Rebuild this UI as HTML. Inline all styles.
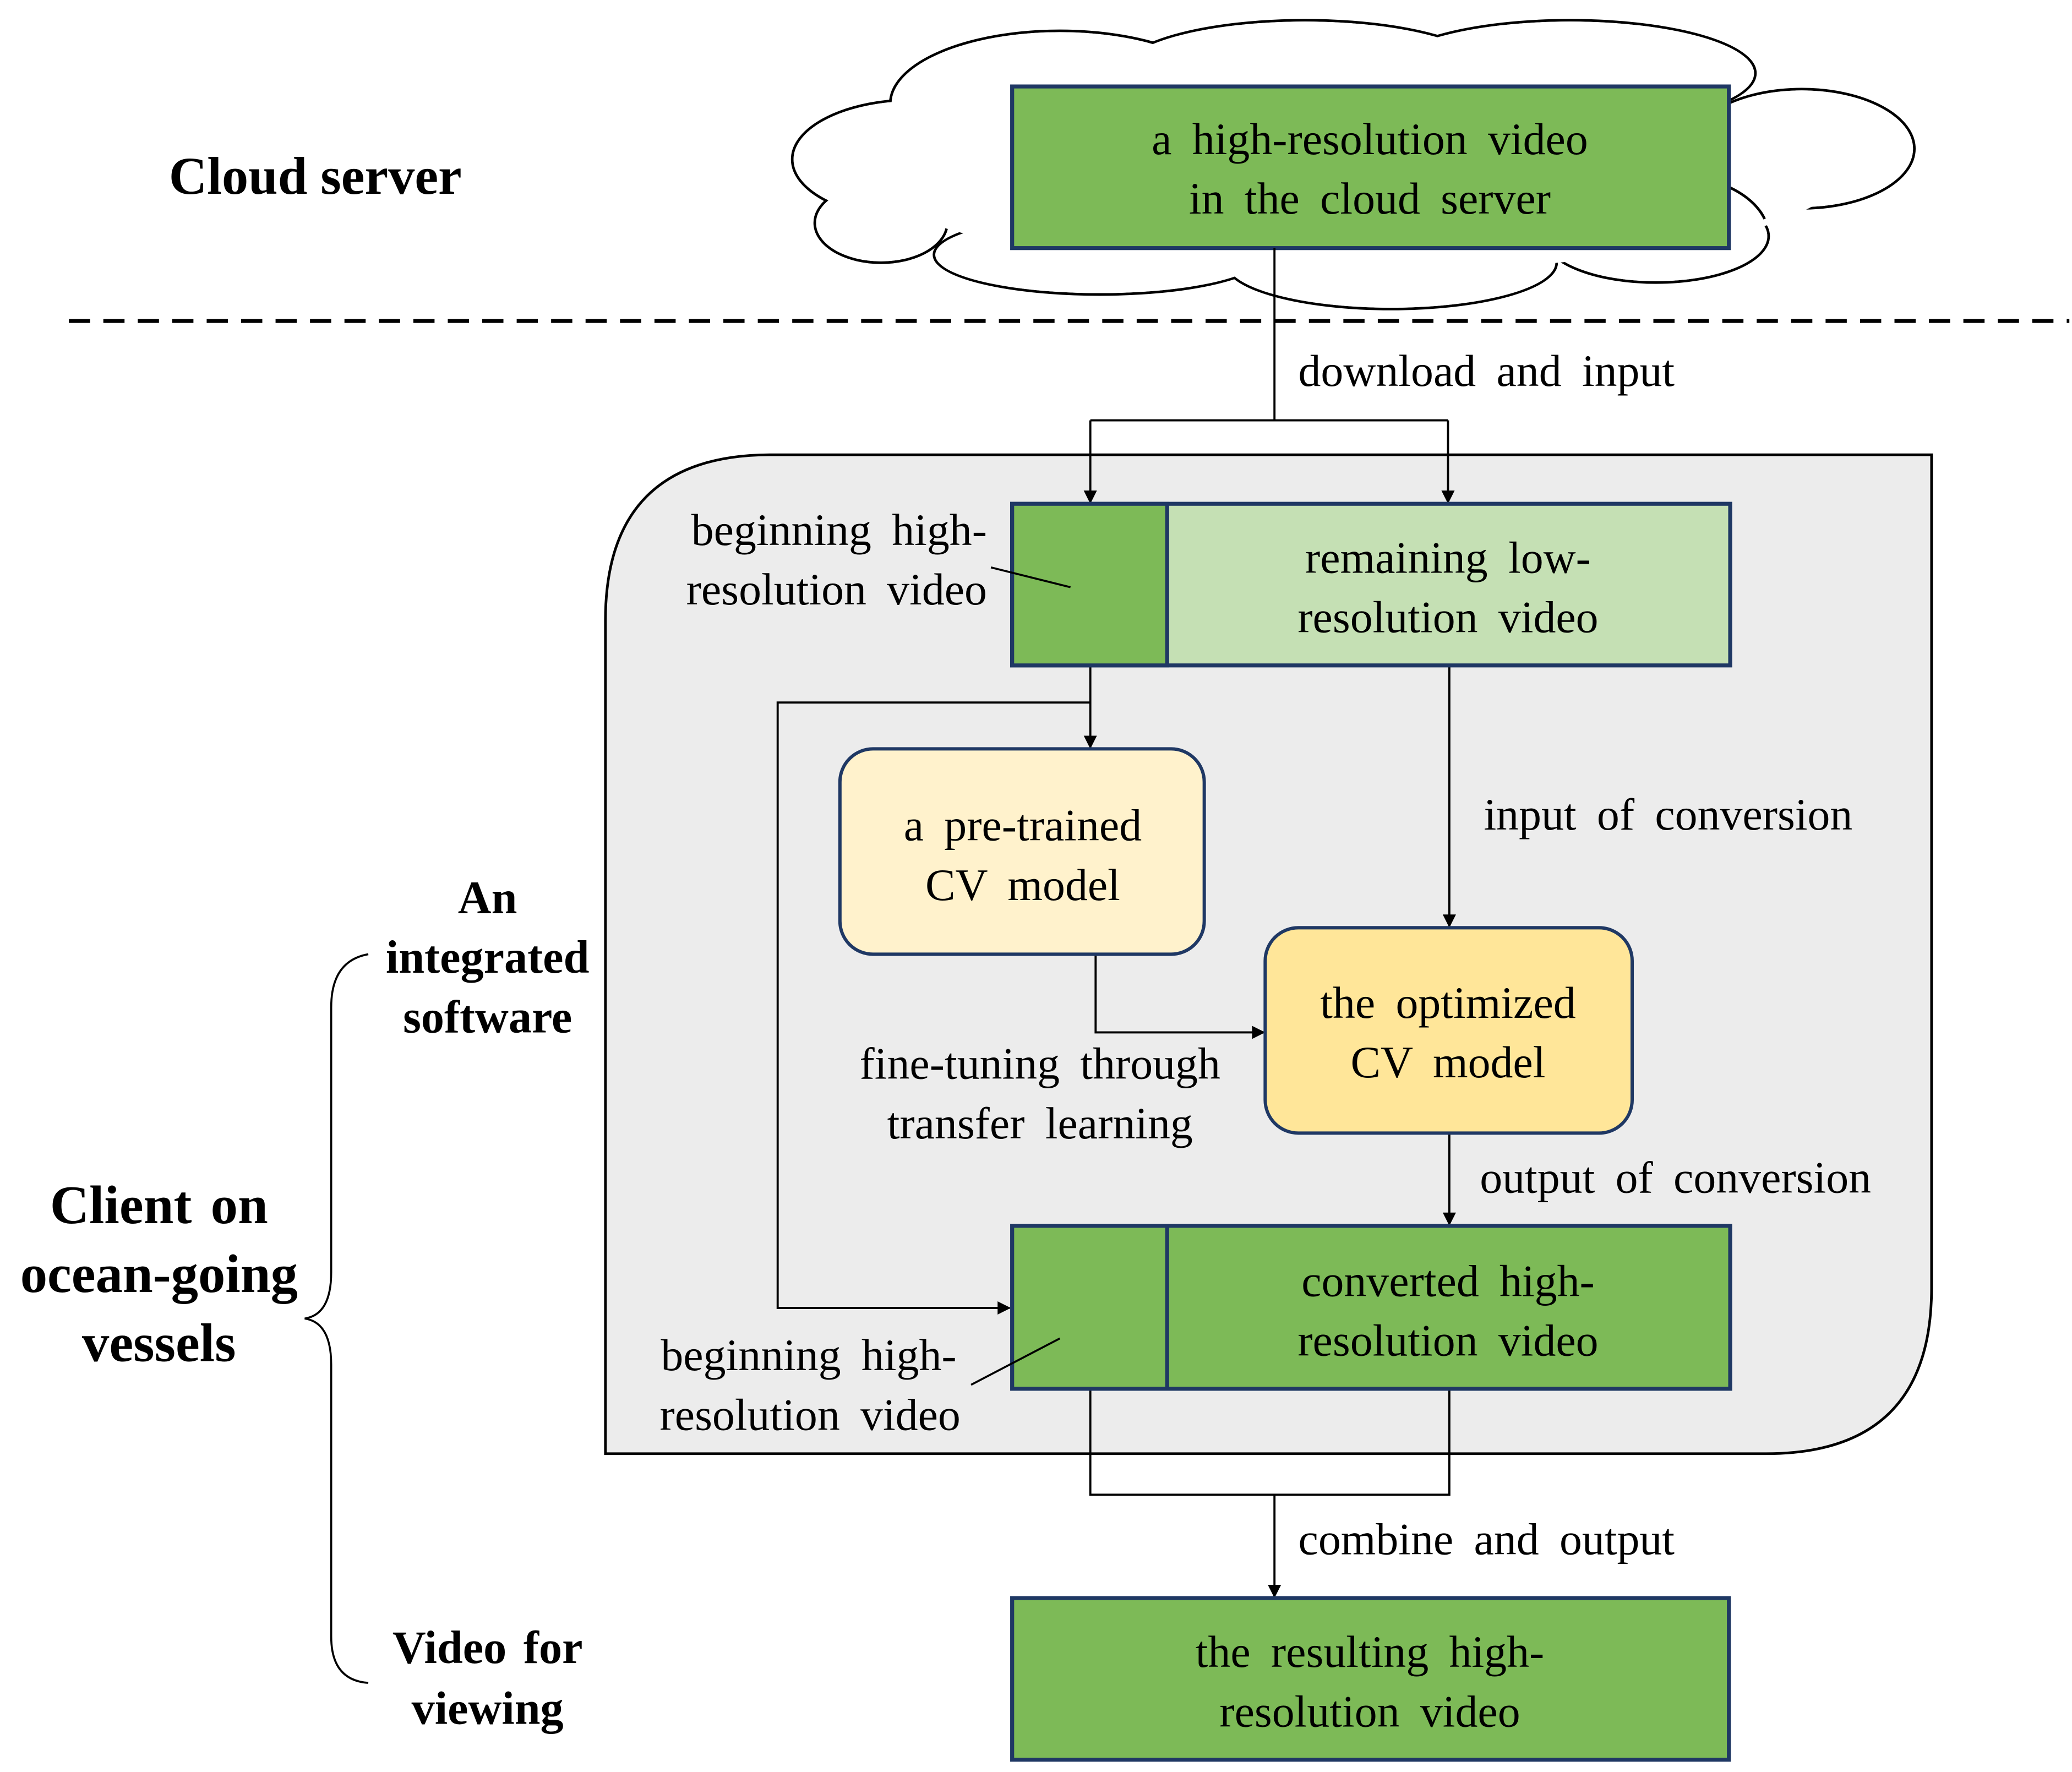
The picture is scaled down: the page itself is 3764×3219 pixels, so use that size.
<!DOCTYPE html>
<html><head><meta charset="utf-8"><style>
html,body{margin:0;padding:0;background:#fff;}
svg{display:block;}
text{font-family:"Liberation Serif",serif;fill:#000;}
.t{font-size:34px;word-spacing:7px;}
.b{font-size:37px;font-weight:bold;}
</style></head><body>
<svg width="3764" height="3219" viewBox="0 0 1564 1337" xmlns="http://www.w3.org/2000/svg">
<defs>
<marker id="a" markerWidth="10" markerHeight="10" refX="9" refY="5" orient="auto" markerUnits="userSpaceOnUse">
<path d="M0,0 L10,5 L0,10 z" fill="#000"/></marker>
</defs>
<!-- cloud -->
<g stroke="#000" stroke-width="2" fill="#fff">
<ellipse cx="690" cy="120" rx="92" ry="45"/>
<ellipse cx="665" cy="168" rx="50" ry="30"/>
<ellipse cx="800" cy="78" rx="128" ry="55"/>
<ellipse cx="985" cy="55" rx="140" ry="40"/>
<ellipse cx="1185" cy="55" rx="140" ry="40"/>
<ellipse cx="1360" cy="112" rx="85" ry="45"/>
<ellipse cx="1250" cy="178" rx="85" ry="35"/>
<ellipse cx="1050" cy="198" rx="125" ry="35"/>
<ellipse cx="830" cy="192" rx="125" ry="30"/>
</g>
<g fill="#fff">
<ellipse cx="690" cy="120" rx="91" ry="44"/>
<ellipse cx="665" cy="168" rx="49" ry="29"/>
<ellipse cx="800" cy="78" rx="127" ry="54"/>
<ellipse cx="985" cy="55" rx="139" ry="39"/>
<ellipse cx="1185" cy="55" rx="139" ry="39"/>
<ellipse cx="1360" cy="112" rx="84" ry="44"/>
<ellipse cx="1250" cy="178" rx="84" ry="34"/>
<ellipse cx="1050" cy="198" rx="124" ry="34"/>
<ellipse cx="830" cy="192" rx="124" ry="29"/>
<ellipse cx="1020" cy="130" rx="370" ry="75"/>
</g>
<path d="M1270,130 Q1320,140 1332,165" fill="none" stroke="#000" stroke-width="2"/>
<rect x="764" y="65" width="541" height="122" fill="#7dba57" stroke="#1f3864" stroke-width="3"/>
<text class="t" x="1034" y="116" text-anchor="middle">a high-resolution  video</text>
<text class="t" x="1034" y="161" text-anchor="middle">in the cloud  server</text>
<text class="b" x="238" y="146" text-anchor="middle" style="font-size:40px">Cloud server</text>
<line x1="52" y1="242" x2="1562" y2="242" stroke="#000" stroke-width="3" stroke-dasharray="16,10"/>
<!-- container -->
<path d="M582,343 L1458,343 L1458,972 Q1458,1097 1333,1097 L457,1097 L457,468 Q457,343 582,343 Z" fill="#ececec" stroke="#000" stroke-width="2"/>
<!-- connectors -->
<g stroke="#000" stroke-width="1.6" fill="none">
<polyline points="962,187 962,317"/>
<polyline points="823,317 1093,317"/>
<line x1="823" y1="317" x2="823" y2="379" marker-end="url(#a)"/>
<line x1="1093" y1="317" x2="1093" y2="379" marker-end="url(#a)"/>
<line x1="823" y1="502" x2="823" y2="564" marker-end="url(#a)"/>
<polyline points="823,530 587,530 587,987 762,987" marker-end="url(#a)"/>
<line x1="1094" y1="502" x2="1094" y2="699" marker-end="url(#a)"/>
<polyline points="827,720 827,779 954,779" marker-end="url(#a)"/>
<line x1="1094" y1="855" x2="1094" y2="924" marker-end="url(#a)"/>
<polyline points="823,1048 823,1128 1094,1128 1094,1048"/>
<line x1="962" y1="1128" x2="962" y2="1205" marker-end="url(#a)"/>
</g>
<text class="t" x="980" y="291">download  and  input</text>
<!-- box2 -->
<rect x="764" y="380" width="542" height="122" fill="#c5e0b4" stroke="#1f3864" stroke-width="3"/>
<rect x="764" y="380" width="117" height="122" fill="#7dba57" stroke="#1f3864" stroke-width="3"/>
<text class="t" x="1093" y="432" text-anchor="middle">remaining  low-</text>
<text class="t" x="1093" y="477" text-anchor="middle">resolution  video</text>
<text class="t" x="745" y="411" text-anchor="end">beginning  high-</text>
<text class="t" x="745" y="456" text-anchor="end">resolution  video</text>
<line x1="748" y1="428" x2="808" y2="443" stroke="#000" stroke-width="1.5"/>
<rect x="634" y="565" width="275" height="155" rx="25" fill="#fff2cc" stroke="#1f3864" stroke-width="2.5"/>
<text class="t" x="772" y="634" text-anchor="middle">a pre-trained</text>
<text class="t" x="772" y="679" text-anchor="middle">CV model</text>
<text class="t" x="1120" y="626">input of conversion</text>
<rect x="955" y="700" width="277" height="155" rx="25" fill="#ffe699" stroke="#1f3864" stroke-width="2.5"/>
<text class="t" x="1093" y="768" text-anchor="middle">the optimized</text>
<text class="t" x="1093" y="813" text-anchor="middle">CV model</text>
<text class="t" x="785" y="814" text-anchor="middle">fine-tuning  through</text>
<text class="t" x="785" y="859" text-anchor="middle">transfer  learning</text>
<text class="t" x="1117" y="900">output of conversion</text>
<!-- box3 -->
<rect x="764" y="925" width="542" height="123" fill="#7dba57" stroke="#1f3864" stroke-width="3"/>
<line x1="881" y1="925" x2="881" y2="1048" stroke="#1f3864" stroke-width="3"/>
<text class="t" x="1093" y="978" text-anchor="middle">converted  high-</text>
<text class="t" x="1093" y="1023" text-anchor="middle">resolution  video</text>
<text class="t" x="722" y="1034" text-anchor="end">beginning  high-</text>
<text class="t" x="725" y="1079" text-anchor="end">resolution  video</text>
<line x1="733" y1="1045" x2="800" y2="1010" stroke="#000" stroke-width="1.5"/>
<text class="t" x="980" y="1173">combine  and  output</text>
<rect x="764" y="1206" width="541" height="122" fill="#7dba57" stroke="#1f3864" stroke-width="3"/>
<text class="t" x="1034" y="1258" text-anchor="middle">the resulting  high-</text>
<text class="t" x="1034" y="1303" text-anchor="middle">resolution  video</text>
<!-- left labels -->
<text class="b" x="120" y="923" text-anchor="middle" style="font-size:41px;word-spacing:4px">Client on</text>
<text class="b" x="120" y="975" text-anchor="middle" style="font-size:41px">ocean-going</text>
<text class="b" x="120" y="1027" text-anchor="middle" style="font-size:41px">vessels</text>
<text class="b" x="368" y="689" text-anchor="middle" style="font-size:35px">An</text>
<text class="b" x="368" y="734" text-anchor="middle" style="font-size:35px">integrated</text>
<text class="b" x="368" y="779" text-anchor="middle" style="font-size:35px">software</text>
<text class="b" x="368" y="1255" text-anchor="middle" style="font-size:35px;word-spacing:4px">Video for</text>
<text class="b" x="368" y="1301" text-anchor="middle" style="font-size:35px">viewing</text>
<path d="M278,720 Q250,725 250,760 L250,960 Q250,992 230,995 Q250,998 250,1030 L250,1235 Q250,1268 278,1270" fill="none" stroke="#000" stroke-width="1.5"/>
</svg>
</body></html>
